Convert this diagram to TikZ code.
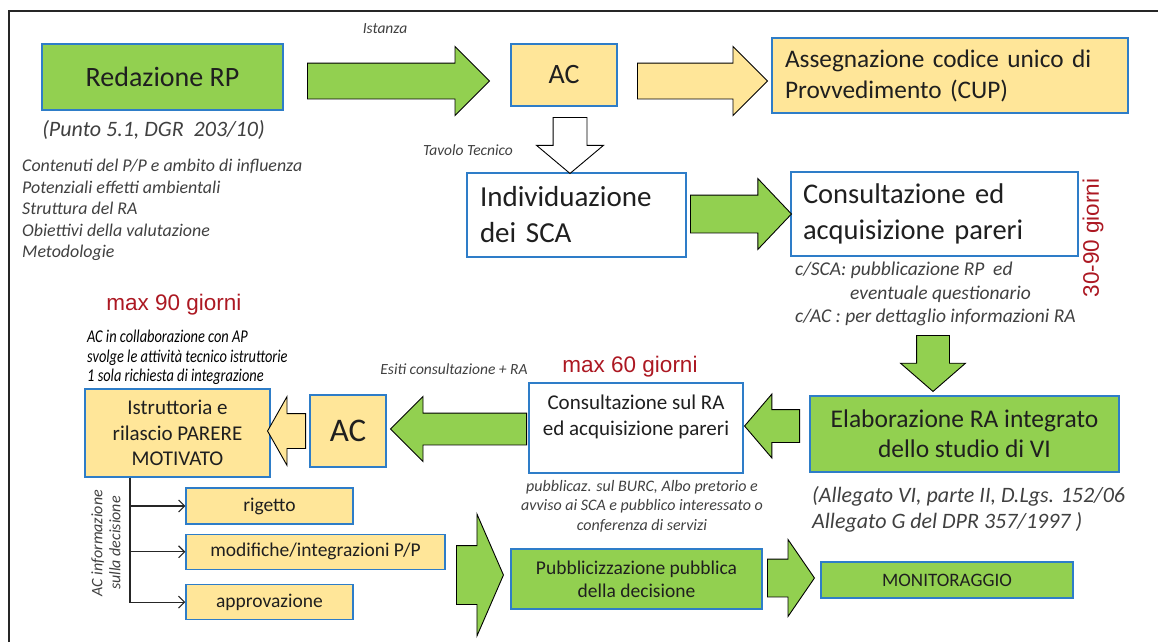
\documentclass[tikz,border=0pt]{standalone}
\usepackage{fontspec}
\setmainfont{Carlito}
\newfontfamily\arialfont{Liberation Sans}
\newfontfamily\narrowfont[FakeStretch=0.8]{Carlito}
\usetikzlibrary{shapes.arrows, arrows.meta, positioning}

\definecolor{boxblue}{RGB}{46,125,200}
\definecolor{boxgreen}{RGB}{146,208,80}
\definecolor{boxyellow}{RGB}{255,230,153}
\definecolor{notegray}{RGB}{64,64,64}
\definecolor{daysred}{RGB}{172,24,34}

\begin{document}
\begin{tikzpicture}[x=1pt, y=-1pt,
box/.style={rectangle, draw=boxblue, line width=1.3pt, inner sep=0pt, align=center, text=black!88},
box-green/.style={box, fill=boxgreen},
box-yellow/.style={box, fill=boxyellow},
box-white/.style={box, fill=white},
fat/.style={single arrow, draw=black, line width=0.9pt, inner xsep=0pt, anchor=tail, single arrow head indent=0pt},
fat-green/.style={fat, fill=boxgreen},
fat-yellow/.style={fat, fill=boxyellow},
fat-white/.style={fat, fill=white},
note/.style={inner sep=0pt, text=notegray, font=\fontsize{15.5}{19}\selectfont\itshape},
days/.style={inner sep=0pt, text=daysred, font=\arialfont\fontsize{22.5}{26}\selectfont},
branch/.style={draw=black!85, line width=1.1pt, -{Straight Barb[length=6pt,width=12pt]}}
]
\useasboundingbox (0,0) rectangle (1158,642);
\draw[line width=1.4pt, black!85] (9,642) -- (9,11) -- (1158,11);

\node[box-green, minimum width=241pt, minimum height=66pt, font=\fontsize{28}{34}\selectfont] (redaz) at (162.5,77) {Redazione RP};
\node[box-yellow, minimum width=106pt, minimum height=62pt, font=\fontsize{28}{34}\selectfont] (ac-top) at (564,75) {AC};
\node[box-yellow, minimum width=356pt, minimum height=75pt, inner xsep=13pt, text width=330pt, align=left, font=\fontsize{25.3}{31}\selectfont] (cup) at (950,75.5) {Assegnazione codice unico di\\Provvedimento (CUP)};
\node[box-white, minimum width=219pt, minimum height=84pt, inner xsep=13pt, text width=193pt, align=left, font=\fontsize{29}{36}\selectfont] (sca) at (576.5,215) {Individuazione\\dei SCA};
\node[box-white, minimum width=287pt, minimum height=84pt, inner xsep=12pt, text width=263pt, align=left, font=\fontsize{28.5}{36}\selectfont] (pareri) at (934.5,214) {Consultazione ed\\acquisizione pareri};
\node[box-green, minimum width=309pt, minimum height=76pt, font=\fontsize{25.5}{30}\selectfont] (elab) at (964.5,434) {Elaborazione RA integrato\\dello studio di VI};
\node[box-white, minimum width=214pt, minimum height=90pt, font=\fontsize{21}{26}\selectfont] (cons-ra) at (636,428) {Consultazione sul RA\\ed acquisizione pareri\\\mbox{}};
\node[box-yellow, minimum width=76pt, minimum height=72pt, font=\fontsize{33}{38}\selectfont] (ac-low) at (348,431) {AC};
\node[box-yellow, minimum width=185pt, minimum height=88pt, font=\fontsize{21}{25.5}\selectfont] (istr) at (177.5,433) {Istruttoria e\\rilascio PARERE\\MOTIVATO};
\node[box-yellow, minimum width=167pt, minimum height=36pt, font=\fontsize{19.5}{22}\selectfont] (rig) at (269.5,506) {rigetto};
\node[box-yellow, below=9pt of rig.south west, anchor=north west, minimum width=259pt, minimum height=35pt, font=\fontsize{19.5}{22}\selectfont] (modif) {modifiche/integrazioni P/P};
\node[box-yellow, below=14pt of modif.south west, anchor=north west, minimum width=167pt, minimum height=35pt, font=\fontsize{19.5}{22}\selectfont] (appr) {approvazione};
\node[box-green, minimum width=251pt, minimum height=60pt, font=\fontsize{19.5}{23}\selectfont] (pubbl) at (636.5,579) {Pubblicizzazione pubblica\\della decisione};
\node[box-green, minimum width=252pt, minimum height=36pt, font=\fontsize{19}{22}\selectfont] (monit) at (947,580) {MONITORAGGIO};

\node[fat-green, minimum height=182pt, inner ysep=17.5pt, single arrow head extend=16.5pt, single arrow tip angle=90] (arr-istanza) at (307,81) {};
\node[fat-yellow, minimum height=130pt, inner ysep=17.5pt, single arrow head extend=16.5pt, single arrow tip angle=90] (arr-cup) at (637,81) {};
\node[fat-white, rotate=-90, minimum height=56pt, inner ysep=16.5pt, single arrow head extend=16.5pt, single arrow tip angle=100] (arr-tavolo) at (570,117) {};
\node[fat-green, minimum height=101pt, inner ysep=18.5pt, single arrow head extend=16.5pt, single arrow tip angle=93] (arr-sca) at (690,214) {};
\node[fat-green, rotate=-90, minimum height=56pt, inner ysep=16pt, single arrow head extend=16pt, single arrow tip angle=98] (arr-elab) at (933,335) {};
\node[fat-green, rotate=180, minimum height=55pt, inner ysep=16pt, single arrow head extend=15.5pt, single arrow tip angle=99] (arr-consra) at (800,426) {};
\node[fat-green, rotate=180, minimum height=136pt, inner ysep=15.5pt, single arrow head extend=16.5pt, single arrow tip angle=90] (arr-esiti) at (527,429) {};
\node[fat-yellow, rotate=180, minimum height=38pt, inner ysep=17pt, single arrow head extend=17pt, single arrow tip angle=121] (arr-istr) at (306,431) {};
\node[fat-green, minimum height=47pt, inner ysep=29pt, single arrow head extend=31.5pt, single arrow tip angle=133] (arr-pubbl) at (456,575) {};
\node[fat-green, minimum height=47pt, inner ysep=18.5pt, single arrow head extend=19.5pt, single arrow tip angle=111] (arr-monit) at (767,578) {};

\node[note] (istanza) at (385,29) {Istanza};
\node[note] (tavolo) at (468,150) {Tavolo Tecnico};
\node[note, font=\fontsize{22}{25}\selectfont\itshape] (punto) at (153.5,130) {(Punto 5.1, DGR\ \ 203/10)};
\node[note, anchor=west, align=left, font=\fontsize{17.9}{21.5}\selectfont\itshape] (contenuti) at (22,210) {Contenuti del P/P e ambito di influenza\\Potenziali effetti ambientali\\Struttura del RA\\Obiettivi della valutazione\\Metodologie};
\node[days, rotate=90] (giorni-sca) at (1093,238) {30-90 giorni};
\node[note, anchor=north west, align=left, font=\fontsize{19.5}{23.5}\selectfont\itshape] (csca) at (795,262) {c/SCA: pubblicazione RP\ \ ed\\\hspace*{55pt}eventuale questionario\\c/AC : per dettaglio informazioni RA};
\node[days] (giorni-istr) at (174,305) {max 90 giorni};
\node[note, text=black, anchor=north west, align=left, font=\narrowfont\fontsize{18}{19.5}\selectfont\itshape] (collab) at (87,330) {AC in collaborazione con AP\\svolge le attività tecnico istruttorie\\1 sola richiesta di integrazione};
\node[note] (esiti) at (454,369) {Esiti consultazione + RA};
\node[days] (giorni-ra) at (630,367) {max 60 giorni};
\node[note, align=center, font=\fontsize{16}{19.5}\selectfont\itshape] (pubblicaz) at (642,506) {pubblicaz. sul BURC,\ Albo pretorio e\\avviso ai SCA e pubblico interessato o\\conferenza di servizi};
\node[note, anchor=west, align=left, font=\fontsize{22}{26}\selectfont\itshape] (allegato) at (812,509) {(Allegato VI, parte II, D.Lgs. 152/06\\Allegato G del DPR 357/1997 )};
\node[note, rotate=90, align=center, font=\fontsize{16}{18}\selectfont\itshape] (decisione) at (106,543) {AC informazione\\sulla decisione};

\path [branch] ([xshift=-47.5pt]istr.south) |- (rig.west);
\path [branch] ([xshift=-47.5pt]istr.south) |- (modif.west);
\path [branch] ([xshift=-47.5pt]istr.south) |- (appr.west);
\end{tikzpicture}
\end{document}
